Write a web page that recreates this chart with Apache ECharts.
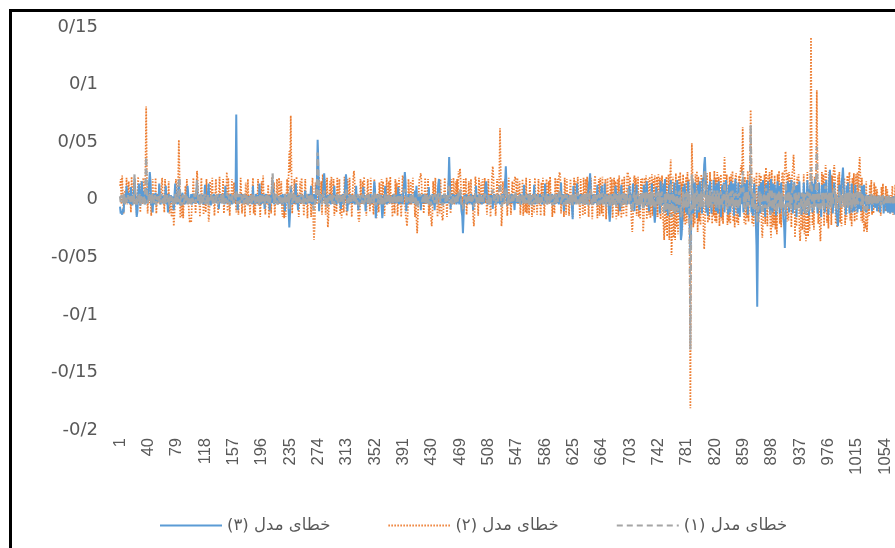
<!DOCTYPE html>
<html>
<head>
<meta charset="utf-8">
<script src="https://cdn.jsdelivr.net/npm/echarts@6/dist/echarts.min.js"></script>
<style>
  html, body { margin: 0; padding: 0; background: #fff; overflow: hidden; }
  #chart { position: absolute; left: 0; top: 0; width: 930px; height: 548px; }
  #frame { position: absolute; left: 9px; top: 9px; width: 1000px; height: 1000px; border: 3px solid #000; pointer-events: none; }
</style>
</head>
<body>
<div id="chart"></div>
<div id="frame"></div>
<script>
// خطای سه مدل - مقادیر به هزارم
var N = 1080;
var categories = [];
for (var i = 1; i <= N; i++) categories.push(String(i));

var names = ['خطای مدل (۳)', 'خطای مدل (۲)', 'خطای مدل (۱)'];

// مدل ۳ (آبی)
var model3 = [
-6,-12,-10,-13,-8,-11,3,5,-2,12,4,-3,6,2,-4,11,3,-5,4,2,
18,5,-3,-15,-10,4,14,2,-5,3,16,4,-3,7,2,-4,10,8,-3,5,
4,24,16,-5,3,-11,5,2,-4,6,-3,2,4,-2,14,3,-4,5,-2,3,
4,-3,2,12,-4,3,-11,5,2,-3,4,-2,3,2,-9,4,14,-3,2,-4,
3,17,-4,2,-5,3,6,-3,2,-4,3,2,-3,12,4,-3,2,-3,5,-4,
3,5,-3,4,-2,5,16,-3,2,-4,3,5,-3,4,2,-4,3,13,-3,2,
-3,5,14,-4,3,-5,2,4,-3,5,3,-2,4,-3,2,4,-8,3,5,-3,
4,-3,2,5,-4,12,-3,4,-3,2,4,-3,5,2,-4,3,2,-3,4,2,
74,6,-9,3,4,-3,2,5,-3,4,-3,5,2,4,-3,2,-4,3,2,-3,
4,3,-4,12,-3,2,-4,5,2,-3,4,-3,14,2,-4,3,5,-3,4,-8,
3,5,-3,4,-2,3,-9,4,2,-3,17,9,-4,3,5,-3,2,-4,3,2,
-3,4,3,-4,5,-3,2,-10,4,2,-3,5,-8,-24,-12,12,3,-4,5,2,
-3,4,14,-4,3,-9,2,4,-3,5,-3,2,4,-3,2,8,-4,3,-3,2,
5,-3,2,12,-4,3,-4,5,2,-3,4,16,52,32,-10,5,-3,4,-3,2,
3,23,12,-4,3,-5,4,2,-3,5,-4,3,2,-3,4,12,-3,2,-4,3,
2,-3,4,3,-8,4,-3,5,-4,3,4,22,14,-10,3,-4,5,2,-3,4,
-3,4,3,-4,2,12,-3,4,-9,3,2,-3,4,-3,2,11,-3,4,-10,3,
2,-3,4,3,-4,5,-3,4,-3,5,16,9,-16,-8,3,-4,5,2,-3,4,
3,-16,-9,4,-3,12,2,-4,3,-3,4,5,-3,2,-3,4,-3,5,2,-3,
4,-3,2,11,-4,3,5,-3,2,-4,8,13,24,15,-10,3,-4,5,2,-3,
5,-3,2,4,-3,2,8,-4,12,-3,4,-3,5,2,-9,4,2,-3,5,-3,
3,4,-3,2,-3,11,-4,3,2,-3,5,-4,3,-9,2,4,-3,3,13,18,
5,-3,2,-4,4,2,-3,5,-3,4,2,-3,12,37,17,-8,3,-4,5,2,
-3,4,2,-4,5,-3,3,-4,5,2,-10,-14,-29,-12,4,3,-3,5,-4,3,
4,-3,2,5,-4,3,-9,4,2,-3,12,-3,4,-3,2,5,-3,2,-4,4,
2,-3,4,12,16,5,-4,2,-3,4,2,-3,4,-8,3,5,-3,2,-4,3,
-3,4,2,-4,3,-4,5,2,-3,4,15,29,12,-5,3,-3,4,-3,2,5,
-3,4,2,-9,5,-3,3,4,-3,2,-3,5,-4,3,2,-3,13,2,-3,4,
4,-3,2,5,-4,3,-3,4,3,-3,13,-4,2,5,-3,2,4,-3,5,-3,
3,-4,4,2,-3,14,-3,4,-3,5,2,-3,4,-3,2,5,-3,4,-4,3,
4,-3,5,2,-4,3,-3,15,-4,3,5,-10,2,4,-3,5,-3,4,-3,2,
-3,4,3,-17,12,-4,2,4,-3,14,2,-3,4,-3,5,-3,2,4,-3,2,
4,-3,5,-4,3,11,16,23,9,-4,3,-4,5,2,-3,4,-3,13,-3,4,
3,-4,4,12,-3,4,-3,14,-4,3,5,-3,2,-11,-19,-10,4,-3,5,-4,
3,-4,12,3,-4,5,-3,4,-10,3,13,-3,4,-3,2,5,-3,4,-4,3,
-3,12,3,-4,5,-3,14,2,-10,4,-3,13,-4,3,4,-9,2,5,-3,4,
-4,13,3,-5,4,16,-3,4,-10,5,3,-4,14,-3,4,-11,-20,-12,11,3,
-4,6,3,-12,16,3,-5,4,14,-4,18,-10,3,5,-14,4,13,-4,17,-3,
6,-5,4,15,-12,5,-3,17,-11,4,13,-15,-35,-30,-17,11,-4,14,3,-11,
5,-13,16,-5,-20,-43,-22,12,18,-12,5,15,-6,4,-16,13,3,-11,16,-4,
6,-12,18,14,30,37,19,-11,5,-14,13,-4,16,3,-12,6,-4,17,-3,12,
-10,14,4,-12,16,-3,6,-15,5,13,-4,15,-11,3,17,-4,6,-13,13,3,
-11,16,4,-5,14,-14,5,18,-4,6,-12,15,3,-15,6,13,-4,16,-11,4,
14,-5,4,17,-13,6,-4,16,13,-11,5,-14,6,14,-4,-17,-40,-93,-32,12,
4,-12,15,-4,6,17,-10,3,-15,13,5,-6,16,-4,6,-13,18,4,-11,14,
-4,13,3,-14,6,16,-4,12,-12,5,15,-5,3,-16,-22,-42,-18,13,-4,16,
4,-11,14,-4,17,3,-12,6,15,-4,12,-15,5,13,-5,16,-3,6,-13,5,
-10,15,4,-12,6,-4,17,3,-14,6,13,-4,16,-11,5,14,-5,18,-3,6,
-12,5,15,-5,4,-15,13,6,-4,14,-11,3,17,-4,6,-13,16,26,14,-4,
6,-12,4,15,-5,5,-13,-15,-23,-11,13,4,-4,16,19,28,13,-5,5,-13,
12,-4,15,3,-12,6,-4,14,-11,5,3,-10,13,-3,4,-11,6,2,-8,4,
-10,12,3,-4,13,-4,5,-11,3,-3,4,-8,2,-4,3,-10,3,-4,2,-7,
-3,3,-10,1,-4,3,-11,2,-4,-3,4,-12,0,-5,3,-10,-2,-11,3,-4,
-12,-3,2,-11,-4,3,-13,-4,-10,1,-12,-5,-2,-11,-4,3,-13,-5,-3,-11
];

// مدل ۲ (نارنجی)
var model2 = [
12,18,-4,21,3,-12,5,8,-3,19,-4,3,16,-2,4,-11,20,2,-3,15,
-4,6,3,-13,4,20,-3,5,-11,16,3,-4,19,4,-3,24,81,22,-12,4,
15,-3,4,-14,3,18,-4,5,-3,19,-12,3,5,-3,12,-4,3,2,19,-3,
4,-11,18,3,-4,5,-3,16,-12,3,4,-15,3,-4,-23,-12,4,18,-3,5,
16,52,20,-16,4,-15,5,-16,3,-4,12,-3,18,-2,4,-13,-20,-16,-20,-4,
4,19,-3,5,-12,4,25,16,-3,4,-15,3,19,-2,4,-13,5,3,-11,18,
-3,5,-19,-11,16,3,-4,19,-2,4,-14,3,18,-3,4,-12,3,20,-3,5,
-3,4,18,-12,3,5,-3,24,-10,19,3,-14,4,-3,18,-4,3,15,-3,4,
-11,5,3,-13,4,-3,19,4,-12,5,-3,4,-15,15,3,-4,18,-3,4,-13,
5,-3,4,19,-12,3,-14,5,3,-4,18,-3,4,-15,3,16,-4,21,-3,5,
-13,4,3,-4,13,-16,5,3,-12,20,-3,4,15,-14,3,-3,18,-4,3,19,
-4,5,16,-11,-15,3,-16,5,-15,4,18,-3,20,42,24,73,26,-12,5,-4,
18,-4,3,20,-3,5,-15,4,16,-4,19,-3,4,-14,3,18,-4,5,-16,4,
5,-3,4,-15,3,19,-18,-35,-22,15,-4,18,3,-4,20,-3,4,16,-13,22,
4,-3,18,-13,3,19,-24,-15,4,16,-3,20,-4,3,18,-14,3,5,-11,19,
-3,4,18,-13,3,-16,5,3,-11,20,-3,4,-14,18,3,-4,19,-3,5,-15,
4,19,25,15,-4,5,-3,4,-16,-19,-13,18,3,-4,16,-3,20,-4,3,-14,
3,18,-4,5,-10,19,-4,3,2,-13,18,-3,4,-16,5,3,-11,15,-4,3,
18,-3,16,4,-14,3,-3,19,-4,3,16,-4,20,-3,4,-15,5,3,-12,18,
-3,15,-14,4,19,-3,4,-15,5,21,18,-4,3,-13,-17,-23,-12,18,3,-4,
16,-4,3,19,-3,5,-15,4,-17,-29,-14,4,18,20,23,15,-4,5,-12,3,
19,-4,5,-3,18,-14,3,4,-16,-23,-13,16,3,-4,19,-3,5,-15,4,3,
-12,18,3,-14,-18,-12,5,19,-3,4,-15,3,16,-4,5,-12,18,3,-4,19,
-4,5,16,-3,18,-3,25,20,27,15,-4,3,-14,18,3,-4,19,-13,4,-3,
16,-4,3,18,-3,5,-15,-23,-11,20,16,-3,4,-14,19,3,-4,15,-3,18,
-4,5,19,-3,4,-13,3,18,-4,5,-15,4,20,29,19,-4,5,-14,3,18,
-3,5,20,62,24,-23,-13,16,3,-4,18,-3,5,-14,3,19,-4,5,-13,4,
16,-4,3,18,20,15,-3,19,-4,3,16,-13,4,-3,18,-14,3,5,-11,19,
-12,5,3,-13,18,-3,4,-15,5,3,-11,19,-3,5,-13,4,18,-4,3,-14,
15,-3,19,4,-14,3,-3,18,-4,3,16,-4,20,-3,5,-15,4,3,-12,19,
-4,5,18,-3,20,24,20,-12,5,-3,4,-15,19,3,-13,18,-4,5,-14,3,
18,-4,5,-15,3,19,-3,16,-4,5,20,-4,3,-16,18,-3,5,-14,19,4,
-13,18,-3,20,4,-15,16,-4,19,3,-17,5,-4,18,21,-3,5,-16,4,18,
-14,19,4,-12,20,-15,5,-3,18,-17,4,19,-4,5,-13,20,-3,18,-16,5,
19,-4,16,-17,3,18,-14,21,-3,5,-16,18,4,-13,20,-4,5,-15,22,24,
18,-4,20,-3,-18,-28,-15,16,21,-4,19,-14,3,20,-15,5,-17,18,-3,19,
-28,-15,19,-4,21,-17,5,18,-13,20,-16,4,22,-14,18,-4,21,-15,5,20,
-15,22,-4,19,-17,5,21,-13,-22,-35,18,-26,20,-32,5,22,-35,19,35,-48,
-28,20,-33,6,-35,23,-24,5,-30,21,-18,24,-6,15,-26,22,-19,6,-22,20,
-20,24,-6,18,-40,-181,-33,49,21,-24,5,-21,22,-6,25,-28,20,-19,6,-22,
22,-6,19,-24,-43,-22,21,-5,23,-20,6,-18,24,-6,18,-21,5,-14,25,-19,
19,-20,24,-5,20,-23,6,22,-18,5,-21,21,37,23,-6,22,-22,5,-19,20,
-21,22,-6,25,-19,5,-24,20,23,-20,6,-22,21,-5,26,30,23,63,28,-20,
20,-22,6,-16,25,-19,5,27,78,29,-21,6,-23,19,5,-18,24,-24,6,-20,
23,-6,21,-22,-33,-19,5,22,-21,28,6,-23,21,-5,24,-20,-33,26,-24,6,
-22,21,-26,6,-30,22,-5,25,-21,6,-24,21,24,-6,20,27,42,26,-19,23,
-18,24,-6,19,-24,22,27,39,24,-33,6,-23,20,-5,22,-24,-36,-22,6,-26,
-21,22,-30,6,-36,-24,24,-32,5,-27,26,141,30,-22,6,-26,20,-5,26,95,
27,-21,6,-24,-36,-19,24,-5,22,-23,6,30,23,-20,5,-25,24,-6,22,-22,
21,-6,25,30,22,-21,5,-24,21,-6,24,-20,5,-23,18,23,-6,19,-22,5,
-17,21,-5,18,24,-18,6,-23,19,-5,23,-19,6,22,-18,24,-5,27,37,21,
-18,19,-20,5,-28,-19,-25,16,-28,-15,4,-14,13,-3,17,-13,4,-12,15,-3,
12,-3,9,-10,4,-11,3,-14,11,-3,14,-4,3,-10,12,-3,9,-11,4,-3,
-12,4,-3,12,-13,3,-4,13,-11,3,-4,11,-12,3,-11,4,-3,12,-13,3
];

// مدل ۱ (خاکستری)
var model1 = [
3,-2,4,1,-3,5,2,-4,3,0,-2,4,-1,3,-3,2,5,-2,1,-4,
22,6,-3,-6,2,4,-2,5,-4,3,1,-3,4,2,-5,12,37,8,-3,4,
-2,6,3,-4,5,-1,2,-3,4,1,-5,3,2,-2,4,-3,5,1,-2,3,
-4,2,5,-3,1,4,-2,3,-5,2,4,-1,3,-4,-6,2,5,-3,1,4,
-2,9,19,-4,3,-5,2,4,-3,1,5,-2,3,-4,2,-3,-5,1,-4,3,
4,-2,3,5,-3,6,17,4,-2,3,-4,5,1,-3,4,-2,3,5,-4,2,
-3,4,-5,2,3,-2,5,1,-4,3,2,-3,4,-1,5,-4,2,3,-2,4,
-3,2,5,-4,1,3,-2,6,-3,4,2,-5,3,1,-2,4,-3,2,5,-1,
8,3,-4,2,5,-3,1,4,-2,3,-4,5,2,-3,4,1,-5,3,2,-2,
4,-3,2,5,-1,3,-4,2,4,-2,3,-5,1,4,-3,2,5,-2,3,-4,
2,4,-3,5,-2,3,-4,1,5,8,23,7,-3,4,-2,5,1,-4,3,2,
-3,4,2,-5,-4,3,-2,5,-3,1,4,-2,6,-8,5,12,4,-3,2,5,
-2,3,5,-4,2,-3,4,1,-2,5,-3,2,4,-4,3,1,-2,5,-3,2,
4,-3,2,5,-2,3,-6,-9,-4,2,5,9,41,20,-3,4,-2,3,-4,5,
2,8,3,-5,2,-4,-6,3,1,4,-2,5,-3,2,4,-4,1,3,-2,5,
-3,2,4,-2,5,-3,1,4,-4,3,2,9,5,-3,2,-4,3,5,-2,1,
4,-2,6,3,-3,2,-4,5,-2,-5,-3,4,2,-3,5,1,-4,3,-2,4,
2,-3,5,1,-4,3,-2,4,2,-3,6,3,-5,-2,4,-3,2,5,-4,3,
4,-5,3,2,-3,5,-2,4,1,-3,5,2,-4,3,-2,4,-3,1,5,-2,
3,-4,2,5,-2,3,4,-3,1,5,4,6,9,5,-4,-5,-3,4,2,-2,
4,-3,2,5,-3,1,-4,3,-5,-7,-4,3,5,4,6,3,-2,4,-3,2,
5,-3,4,-2,3,-4,2,4,-5,-6,-3,4,2,-3,5,-2,3,-4,4,6,
3,-2,4,-3,-5,-2,3,5,-2,4,-3,2,5,12,6,-3,2,-4,3,1,
-3,4,2,-4,5,-2,8,3,9,4,-3,-5,-8,-4,3,2,-3,4,-2,3,
4,-3,2,5,-2,3,-4,-6,-2,6,4,-3,2,-4,5,1,-3,4,-2,3,
-2,3,5,4,6,2,-3,4,-4,3,-5,2,5,9,5,-2,3,-4,2,5,
-2,4,5,14,6,-6,-3,4,2,-3,5,10,4,-4,2,-3,5,-2,1,4,
5,-3,2,4,7,3,-2,5,-3,2,4,-4,3,-2,5,-4,2,4,-3,5,
-3,4,2,-4,5,-2,3,-5,4,2,-3,5,-2,4,-4,3,5,-3,2,-4,
4,-2,5,3,-4,3,-2,5,-4,3,4,-3,5,-2,3,-5,4,2,-3,5,
-3,4,5,-2,6,9,5,-3,4,-2,3,-5,5,2,-4,4,-3,3,-4,2,
5,-3,4,-5,3,5,-2,4,-4,3,6,-3,2,-5,4,-2,4,-4,5,3,
-4,5,-3,6,3,-5,4,6,9,2,-6,4,-3,5,6,-2,4,-5,3,5,
-4,5,3,-3,6,-5,4,-2,5,-6,3,5,-3,4,-7,5,-2,4,-5,3,
6,-4,5,-6,3,5,-4,7,-3,4,-6,5,3,-4,6,-3,4,-5,7,9,
5,-4,6,-3,-7,-10,-5,4,7,-4,5,-5,3,6,-5,4,-6,5,-3,6,
-9,-5,6,-4,7,5,-5,5,-4,6,-6,3,7,-5,6,-4,-8,-5,4,6,
-5,7,-4,6,-6,4,7,-5,-8,-12,5,-9,6,-10,4,7,-12,6,14,-15,
-10,6,-12,5,-13,8,-9,4,-10,7,-6,8,-15,-12,-9,7,-6,5,-8,6,
-7,8,-6,5,-25,-130,-20,22,7,-8,5,-7,6,-5,8,-9,6,-6,5,-7,
7,-6,5,-8,20,25,8,-5,7,-7,4,-6,8,-5,5,-7,6,-4,8,-6,
5,-7,8,-5,6,-8,5,7,-6,4,-7,6,15,7,-5,7,-8,5,-6,6,
-7,7,-5,8,-6,5,-8,6,7,-7,5,-8,6,-6,8,12,7,25,10,-7,
6,-8,7,-5,8,-6,5,10,65,12,-7,6,-8,5,7,-6,-12,-20,-10,-7,
7,-5,6,-8,-12,-6,6,7,-7,10,5,-8,6,-6,8,-7,-12,9,-8,6,
-8,6,-9,5,-11,7,-6,8,-7,5,-8,6,7,-7,-8,-14,15,8,-6,7,
-6,8,-7,5,-8,7,9,14,8,-10,6,-8,6,-7,7,-8,-12,-7,6,-9,
-7,6,-10,5,-12,-8,7,-10,6,-9,8,28,10,-7,6,-9,5,-6,12,46,
10,-7,6,-8,-10,-6,7,-5,6,-8,5,12,7,-6,5,-8,7,-5,6,-7,
6,-5,7,10,6,-7,5,-8,-9,-5,7,-6,5,-7,6,9,-6,5,-7,6,
-5,6,-7,5,7,-5,6,-8,5,-4,6,-6,4,6,-5,7,-4,8,13,6,
-5,5,-6,4,-10,-6,-8,4,-9,-5,4,-4,3,-3,5,-4,3,-4,4,-3,
3,-4,2,-3,4,-3,2,-5,3,-2,4,-4,1,-3,3,-4,2,-3,4,-2,
-4,3,-2,3,-5,2,-3,4,-4,2,-3,3,-4,2,-4,3,-3,3,-5,2
];

function toUnit (arr) {
    return arr.map(function (v) { return v / 1000; });
}

// ممیز فارسی به صورت "/"
function yLabel (v) {
    var s = String(parseFloat(v.toFixed(2)));
    return s.replace('.', '/');
}

var myChart = echarts.init(document.getElementById('chart'));
myChart.setOption({
    animation: false,
    grid: { left: 120, top: 27, right: 26, bottom: 118, outerBoundsMode: 'none' },
    legend: {
        data: names,
        left: 154,
        top: 512,
        itemWidth: 62,
        itemHeight: 14,
        itemGap: 57,
        itemStyle: { opacity: 0 },
        formatter: function (name) { return '\u202B' + name + '\u202C'; },
        textStyle: { fontFamily: 'DejaVu Sans', fontSize: 16.5, color: '#595959' }
    },
    xAxis: {
        type: 'category',
        data: categories,
        boundaryGap: false,
        axisLine: { show: false, onZero: false },
        axisTick: { show: false },
        axisLabel: {
            interval: 38,
            rotate: 90,
            margin: 8,
            fontFamily: 'Liberation Sans',
            fontSize: 16.5,
            color: '#595959'
        },
        splitLine: { show: false }
    },
    yAxis: {
        type: 'value',
        min: -0.2,
        max: 0.15,
        interval: 0.05,
        axisLine: { show: false },
        axisTick: { show: false },
        splitLine: { show: false },
        axisLabel: {
            margin: 22,
            fontFamily: 'DejaVu Sans',
            fontSize: 18,
            color: '#595959',
            formatter: yLabel
        }
    },
    // ترتیب رسم: نارنجی، آبی، خاکستری روی همه
    series: [
        {
            name: names[1],
            type: 'line',
            data: toUnit(model2),
            symbol: 'none',
            color: '#ED7D31',
            lineStyle: { width: 1.75, color: '#ED7D31', type: [1.5, 1.5] }
        },
        {
            name: names[0],
            type: 'line',
            data: toUnit(model3),
            symbol: 'none',
            color: '#5B9BD5',
            lineStyle: { width: 2, color: '#5B9BD5' }
        },
        {
            name: names[2],
            type: 'line',
            data: toUnit(model1),
            symbol: 'none',
            color: '#A5A5A5',
            lineStyle: { width: 2.25, color: '#A5A5A5', type: [6, 4] }
        }
    ]
});
</script>
</body>
</html>
